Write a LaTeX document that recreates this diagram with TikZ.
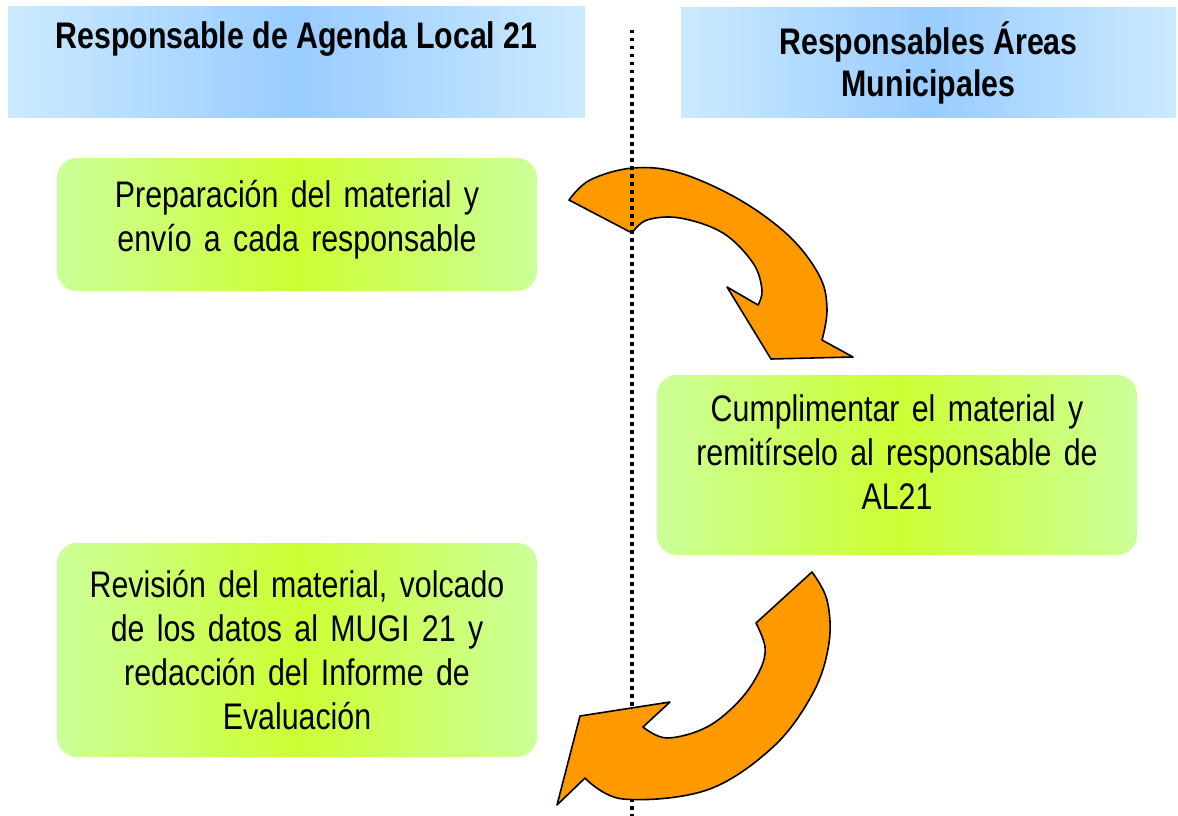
\documentclass[tikz,border=0pt]{standalone}
\usepackage{fontspec}
\setmainfont{Liberation Sans}[FakeStretch=0.82]
\definecolor{headedge}{RGB}{204,234,255}
\definecolor{headmid}{RGB}{153,204,255}
\definecolor{boxedge}{RGB}{204,255,153}
\definecolor{boxmid}{RGB}{204,255,51}
\definecolor{arroworange}{RGB}{255,153,0}

\begin{document}
\begin{tikzpicture}[x=1pt,y=-1pt,
  header/.style={inner sep=0pt, minimum height=110pt, align=center,
    left color=headedge, right color=headedge, middle color=headmid,
    font=\bfseries\fontsize{37}{42}\selectfont},
  stepbox/.style={rounded corners=20pt, inner sep=0pt, minimum width=480pt,
    text width=450pt, align=center,
    left color=boxedge, right color=boxedge, middle color=boxmid,
    font=\fontsize{37}{44}\selectfont},
  blockarrow/.style={fill=arroworange, draw=black, line width=1.6pt, line join=round}]
  \useasboundingbox (0,0) rectangle (1178,816);

  % column headers
  \node (hleft) [header, minimum width=577pt] at (296.5,62) {Responsable de Agenda Local 21\\ \strut};
  \node (hright) [header, minimum width=495pt] at (928.5,62.5) {Responsables Áreas\\Municipales};

  % steps
  \node (prep) [stepbox, minimum height=133pt] at (297,224.5) {Preparación del material y\\envío a cada responsable\\[-26pt]\mbox{}};
  \node (cumpl) [stepbox, minimum height=180pt] at (897,465) {Cumplimentar el material y\\remitírselo al responsable de\\AL21\\[-18pt]\mbox{}};
  \node (revis) [stepbox, minimum height=214pt] at (297,650) {Revisión del material, volcado\\de los datos al MUGI 21 y\\redacción del Informe de\\Evaluación};

  % first curved arrow
  \filldraw[blockarrow] plot[smooth, tension=0.6] coordinates {(569,200) (590,180) (633,168) (680,173) (740,200) (790,237) (820,277) (827,310) (822,340)}
    -- (853,357) -- (771,359) -- (727,287)
    -- plot[smooth, tension=0.6] coordinates {(758,305) (762,290) (753,263) (723,233) (680,218) (647,220) (632,233)} -- cycle;

  % divider
  \coordinate (ltop) at (632,30);
  \coordinate (lbot) at (632,816);
  \draw[line width=3.5pt, dash pattern=on 3.5pt off 4.5pt] (ltop) -- (lbot);

  % second curved arrow
  \filldraw[blockarrow] plot[smooth, tension=0.6] coordinates {(812,572) (827,600) (829,643) (813,693) (773,747) (707,790) (623,799) (585,778)}
    -- (557,805) -- (580,716) -- (670,702)
    -- plot[smooth, tension=0.6] coordinates {(643,727) (667,738) (707,727) (740,700) (760,670) (765,647) (756,623)} -- cycle;
\end{tikzpicture}
\end{document}
